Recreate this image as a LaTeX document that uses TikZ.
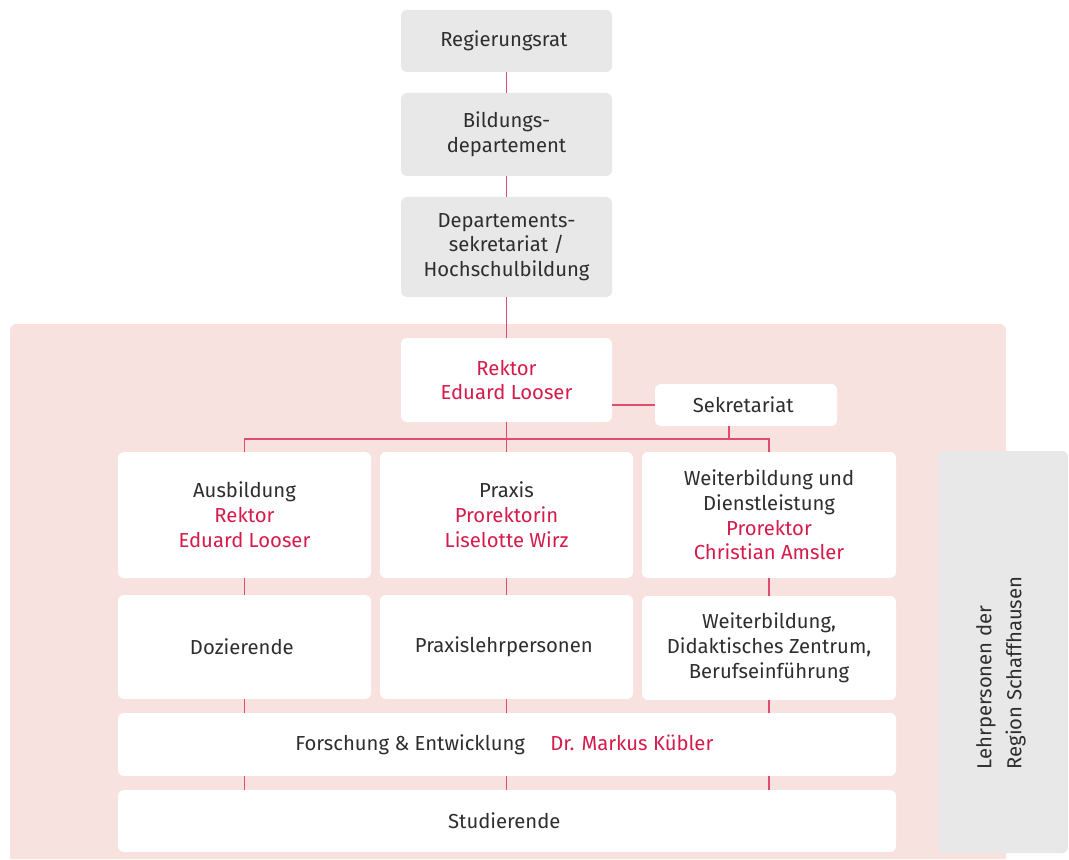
\documentclass[tikz,border=0pt]{standalone}
\usepackage{fontspec}
\setmainfont{Fira Sans}
\usetikzlibrary{positioning}
\definecolor{boxgrey}{HTML}{E8E8E8}
\definecolor{panelpink}{HTML}{F8E2DF}
\definecolor{namered}{HTML}{D51B4B}
\definecolor{linkred}{HTML}{DE4D70}
\definecolor{textgrey}{HTML}{2E2E2E}
\newcommand{\pname}[1]{{\color{namered}#1}}

\begin{document}
\begin{tikzpicture}[x=0.75pt,y=-0.75pt,
    every node/.style={font=\fontsize{15.2}{18.6}\selectfont,
        text=textgrey, align=center, inner sep=0pt},
    greybox/.style={fill=boxgrey, rounded corners=4.5pt},
    whitebox/.style={fill=white, rounded corners=4.5pt},
    link/.style={draw=linkred, line width=1pt}]

\useasboundingbox (0,0) rectangle (1069,859);

% pink panel
\fill[panelpink] (10,859) {[rounded corners=4.5pt] -- (10,324) -- (1006,324) -- (1006,600)} -- (1006,859) -- cycle;

\node[greybox,
    minimum width=158.25pt,
    minimum height=46.5pt
] (regrat) at (506.5,41) { Regierungsrat };

\node[greybox,
    minimum width=158.25pt,
    minimum height=62.25pt
] (bildep) at (506.5,134.5) { Bildungs-\\departement };

\node[greybox,
    minimum width=158.25pt,
    minimum height=75pt
] (depsek) at (506.5,247) { Departements-\\sekretariat /\\Hochschulbildung };

\node[whitebox,
    minimum width=158.25pt,
    minimum height=63pt
] (rektor) at (506.5,380) { \pname{Rektor}\\\pname{Eduard Looser} };

\node[whitebox,
    minimum width=136.5pt,
    minimum height=31.5pt
] (sekr) at (746,405) { Sekretariat };

\node[whitebox,
    minimum width=189.75pt,
    minimum height=94.5pt
] (ausb) at (244.5,515) { Ausbildung\\\pname{Rektor}\\\pname{Eduard Looser} };

\node[whitebox,
    minimum width=189.75pt,
    minimum height=94.5pt
] (praxis) at (506.5,515) { Praxis\\\pname{Prorektorin}\\\pname{Liselotte Wirz} };

\node[whitebox,
    minimum width=190.5pt,
    minimum height=94.5pt
] (weiter) at (769,515) { Weiterbildung und\\Dienstleistung\\\pname{Prorektor}\\\pname{Christian Amsler} };

\node[whitebox,
    minimum width=189.75pt,
    minimum height=78pt
] (doz) at (244.5,647) { Dozierende };

\node[whitebox,
    minimum width=189.75pt,
    minimum height=78pt
] (praxlp) at (506.5,647) { Praxislehrpersonen };

\node[whitebox,
    minimum width=190.5pt,
    minimum height=78pt
] (weidid) at (769,648) { Weiterbildung,\\Didaktisches Zentrum,\\Berufseinführung };

\node[whitebox,
    minimum width=583.5pt,
    minimum height=47.25pt
] (forsch) at (507,744.5) { Forschung \& Entwicklung\hspace{19pt}\pname{Dr. Markus Kübler} };

\node[whitebox,
    minimum width=583.5pt,
    minimum height=46.5pt
] (stud) at (507,821) { Studierende };

\node[greybox,
    minimum width=97.5pt,
    minimum height=301.5pt
] (lehrp) at (1003,652) {};

\node[rotate=90, align=left, font=\fontsize{15.2}{22.5}\selectfont]
    (lehrptext) at (1001,673) { Lehrpersonen der\\Region Schaffhausen };

\coordinate (bus) at (506.5,439);
\coordinate (sekdrop) at (729,439);

\draw[link] (regrat) -- (bildep);
\draw[link] (bildep) -- (depsek);
\draw[link] (depsek) -- (rektor);

\draw[link] (sekr.west) -- (sekr.west -| rektor.east);
\draw[link] (rektor) -- (praxis);
\draw[link] (ausb.north) |- (bus) -| (weiter.north);
\draw[link] (sekdrop) -- (sekdrop |- sekr.south);

\draw[link] (ausb) -- (doz);
\draw[link] (praxis) -- (praxlp);
\draw[link] (weiter) -- (weidid);

\draw[link] (doz.south) -- (doz.south |- forsch.north);
\draw[link] (praxlp.south) -- (praxlp.south |- forsch.north);
\draw[link] (weidid.south) -- (weidid.south |- forsch.north);

\draw[link] (doz.south |- forsch.south) -- (doz.south |- stud.north);
\draw[link] (praxlp.south |- forsch.south) -- (praxlp.south |- stud.north);
\draw[link] (weidid.south |- forsch.south) -- (weidid.south |- stud.north);

\end{tikzpicture}
\end{document}
